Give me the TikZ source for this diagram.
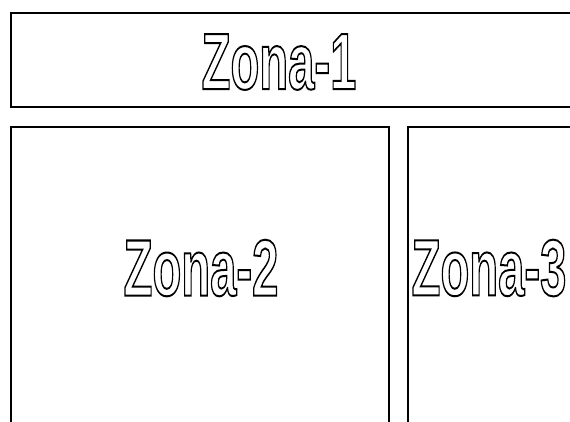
\documentclass[tikz,border=0pt]{standalone}
\usepackage{fontspec}
\setmainfont{Liberation Sans}
\tikzset{
  zonebox/.style={draw=black, line width=1.3pt, fill=none},
  zonelabel/.style={inner sep=0pt, font=\fontsize{80}{80}\selectfont\bfseries, xscale=0.59}
}
\newcommand{\outlinetext}[1]{\special{pdf:literal direct 1 Tr 2.0 w}#1\special{pdf:literal direct 0 Tr}}
\begin{document}
\begin{tikzpicture}[x=1pt,y=1pt]
\useasboundingbox (0,0) rectangle (570,-421);
\clip (0,0) rectangle (570,-421);
\fill[white] (0,0) rectangle (570,-421);
\draw[zonebox] (11,-13) rectangle (600,-107);
\draw[zonebox] (11,-127) rectangle (389,-450);
\draw[zonebox] (408,-127) rectangle (700,-450);
\node[zonelabel] (z1) at (279,-62) {\outlinetext{Zona-1}};
\node[zonelabel] (z2) at (201,-268) {\outlinetext{Zona-2}};
\node[zonelabel] (z3) at (489,-268) {\outlinetext{Zona-3}};
\end{tikzpicture}
\end{document}
